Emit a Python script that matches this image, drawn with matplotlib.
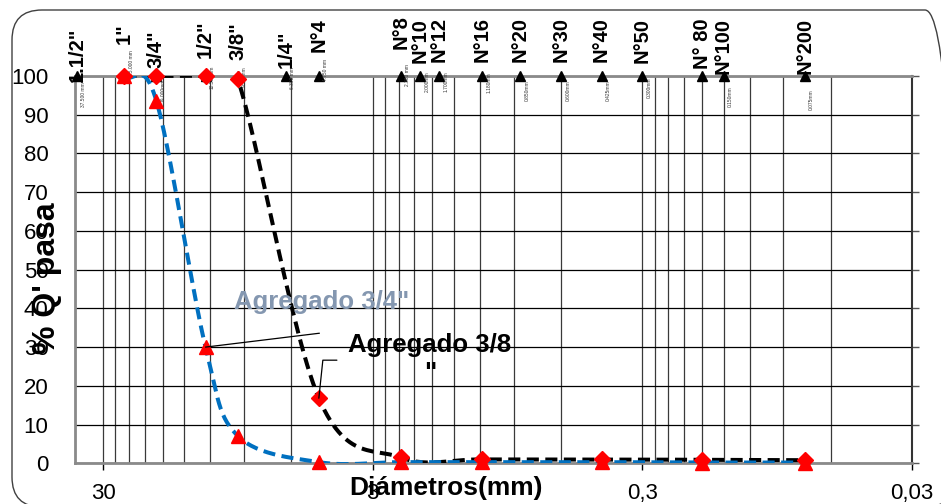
import numpy as np
import matplotlib
matplotlib.use("Agg")
import matplotlib.pyplot as plt
import matplotlib.patches as mpatches
from matplotlib.transforms import IdentityTransform
from matplotlib.ticker import FixedLocator, FixedFormatter, NullFormatter

plt.rcParams['font.family'] = ['Liberation Sans', 'DejaVu Sans']

# sieve series (top of chart)
sieve_mm = [37.5, 25, 19, 12.5, 9.5, 6.3, 4.75, 2.36, 2.0, 1.7, 1.18, 0.85,
            0.6, 0.425, 0.3, 0.18, 0.15, 0.075]
sieve_names = ['1.1/2"', '1"', '3/4"', '1/2"', '3/8"', '1/4"', 'N°4', 'N°8',
               'N°10', 'N°12', 'N°16', 'N°20', 'N°30', 'N°40', 'N°50',
               'N° 80', 'N°100', 'N°200']
sieve_txt = ['37.500 mm', '25.000 mm', '19.000mm', '12.500mm', '9.500mm',
             '6.300 mm', '4.750 mm', '2.360 mm', '2.000mm', '1.700mm',
             '1.180mm', '0.850mm', '0.600mm', '0.425mm', '0.300mm', '',
             '0.150mm', '0.075mm']

# grading curves
d_test = [25, 19, 12.5, 9.5, 4.75, 2.36, 1.18, 0.425, 0.18, 0.075]
pasa_34 = [100, 93.5, 30, 7.1, 0.3, 0.3, 0.3, 0.3, 0.2, 0.2]
pasa_38 = [100, 100, 100, 99.2, 16.8, 1.5, 1.0, 1.0, 0.9, 0.8]

x_ticks = [30, 3, 0.3, 0.03]
x_ticklabels = ['30', '3', '0,3', '0,03']

# label layout (pixel tops of the rotated sieve names / small size labels)
name_top_px = [28, 23, 30, 20, 22, 30, 18, 15, 18, 17, 17, 17, 17, 17, 18,
               18, 18, 18]
size_mid_px = [95, 63, 90, 77, 77, 78, 70, 75, 82, 82, 83, 91, 91, 91, 88,
               0, 97, 100]


def smooth(xs, ys, n=30):
    # Catmull-Rom through points in (log x, y), like a smoothed Excel line
    lx = np.log10(np.asarray(xs, float))
    yy = np.asarray(ys, float)
    P = np.column_stack([lx, yy])
    P = np.vstack([2 * P[0] - P[1], P, 2 * P[-1] - P[-2]])
    out = []
    t = np.linspace(0, 1, n)[:, None]
    for i in range(1, len(P) - 2):
        p0, p1, p2, p3 = P[i - 1], P[i], P[i + 1], P[i + 2]
        seg = 0.5 * ((2 * p1) + (-p0 + p2) * t +
                     (2 * p0 - 5 * p1 + 4 * p2 - p3) * t ** 2 +
                     (-p0 + 3 * p1 - 3 * p2 + p3) * t ** 3)
        out.append(seg)
    out = np.vstack(out)
    return 10 ** out[:, 0], out[:, 1]


fig = plt.figure(figsize=(9.41, 5.04), dpi=100)
ax = fig.add_axes([75 / 941, 1 - 463.3 / 504, (912 - 75) / 941, (463.3 - 76) / 504])

ax.set_xscale('log')
ax.set_xlim(38.1, 0.03)
ax.set_ylim(0, 100)

ax.xaxis.set_major_locator(FixedLocator(x_ticks))
ax.xaxis.set_major_formatter(FixedFormatter(x_ticklabels))
minor = [k * 3 * 10.0 ** e for e in (-2, -1, 0) for k in range(2, 10)]
ax.xaxis.set_minor_locator(FixedLocator(minor))
ax.xaxis.set_minor_formatter(NullFormatter())
ax.set_yticks(range(0, 101, 10))

ax.tick_params(axis='x', which='major', length=5, width=1, color='black',
               direction='out', labelsize=16, pad=9)
ax.tick_params(axis='x', which='minor', length=0)
ax.tick_params(axis='y', which='major', left=False, right=True, length=5,
               width=1, color='#555555', direction='out', labelsize=16,
               pad=14, labelleft=True, labelright=False)

ax.grid(True, axis='x', which='both', color='#3a3a3a', linewidth=0.9)
ax.grid(True, axis='y', which='major', color='black', linewidth=0.9)
ax.set_axisbelow(True)
for s in ['left', 'top', 'bottom']:
    ax.spines[s].set_color('#8a8a8a')
    ax.spines[s].set_linewidth(2)
ax.spines['right'].set_color('#333333')
ax.spines['right'].set_linewidth(1.5)

# sieve markers and names
ax.plot(sieve_mm, [100] * len(sieve_mm), linestyle='none', marker='^',
        color='black', markersize=7, clip_on=False, zorder=3)
for d, name, top, txt, mid in zip(sieve_mm, sieve_names, name_top_px,
                                  sieve_txt, size_mid_px):
    ax.annotate(name, xy=(d, 100), xytext=(0, (76 - top) * 0.72),
                textcoords='offset points', rotation=90, ha='center',
                va='top', fontsize=14.5, fontweight='bold',
                annotation_clip=False)
    if txt:
        ax.annotate(txt, xy=(d, 100), xytext=(5, (76 - mid) * 0.72),
                    textcoords='offset points', rotation=90, ha='center',
                    va='center', fontsize=3.5, color='#333333',
                    annotation_clip=False)

# curves
sx, sy = smooth(d_test, pasa_38)
ax.plot(sx, sy, color='black', linewidth=2.9, dashes=(3.0, 1.6), zorder=4)
sx, sy = smooth(d_test, pasa_34)
ax.plot(sx, sy, color='#0070C0', linewidth=2.9, dashes=(3.0, 1.6), zorder=5)
ax.plot(d_test, pasa_38, linestyle='none', marker='D', color='#FF0000',
        markersize=8, clip_on=False, zorder=6)
ax.plot(d_test, pasa_34, linestyle='none', marker='^', color='#FF0000',
        markersize=9.5, clip_on=False, zorder=7)

# labels of the curves
ax.text(4.625, 41.6, 'Agregado 3/4"', color='#8497B0', fontsize=18.5,
        fontweight='bold', ha='center', va='center', zorder=8)
ax.annotate('', xy=(d_test[2], pasa_34[2]), xytext=(82, 10),
            textcoords='offset points',
            arrowprops=dict(arrowstyle='-', color='black', lw=0.9,
                            shrinkA=0, shrinkB=0), zorder=8)
ax.text(1.839, 33.7, 'Agregado 3/8\n"', color='black', fontsize=18.5,
        fontweight='bold', ha='center', va='top', multialignment='center',
        zorder=8)
ax.annotate('', xy=(d_test[4], pasa_38[4]), xytext=(13, 27.4),
            textcoords='offset points',
            arrowprops=dict(arrowstyle='-', color='black', lw=0.9,
                            shrinkA=0, shrinkB=0,
                            connectionstyle='angle,angleA=0,angleB=84,rad=0'),
            zorder=8)

fig.text(446 / 941, 1 - 488 / 504, 'Diámetros(mm)', fontsize=19,
         fontweight='bold', ha='center', va='center')
fig.text(47 / 941, 1 - 278.5 / 504, "% Q' pasa", fontsize=23,
         fontweight='bold', ha='center', va='center', rotation=90)

border = mpatches.FancyBboxPatch((12, -3), 943, 497,
                                 boxstyle='round,pad=0,rounding_size=30',
                                 transform=IdentityTransform(),
                                 facecolor='none', edgecolor='#404040',
                                 linewidth=1.0)
fig.add_artist(border)

fig.savefig('out.png', dpi=100)
